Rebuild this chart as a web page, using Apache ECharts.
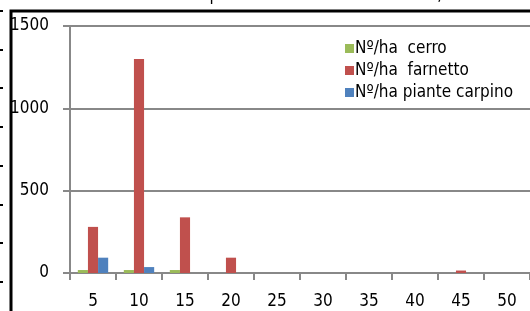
<!DOCTYPE html>
<html>
<head>
    <meta charset="utf-8">
    <script src="https://cdn.jsdelivr.net/npm/echarts@6/dist/echarts.min.js"></script>
    <style>
        body { margin: 0; background: #fff; }
    </style>
</head>
<body>
    <div id="main" style="width: 530px;height:311px;"></div>
    <script>
        // diametri (classi)
        var categories = ['5', '10', '15', '20', '25', '30', '35', '40', '45', '50'];
        var cerro = [18, 18, 18, 0, 0, 0, 0, 0, 0, 0];
        var farnetto = [280, 1300, 338, 93, 0, 0, 0, 0, 15, 0];
        var carpino = [93, 36, 0, 0, 0, 0, 0, 0, 0, 0];
        var yTicks = [0, 500, 1000, 1500];

        var font = "'DejaVu Sans Condensed'";
        var myChart = echarts.init(document.getElementById('main'));

        // trattini sul bordo sinistro (foglio di calcolo tagliato)
        var marks = [11, 50, 88, 127, 166, 205, 243, 282].map(function (y) {
            return { type: 'rect', shape: { x: 0, y: y - 1, width: 3, height: 2 }, style: { fill: '#000' } };
        });

        var option = {
            animation: false,
            color: ['#9BBB59', '#C0504D', '#4F81BD'],
            graphic: marks.concat([
                {
                    type: 'polyline',
                    shape: { points: [[11, 320], [11, 11], [540, 11]] },
                    style: { stroke: '#000', lineWidth: 3, fill: null }
                },
                {
                    type: 'text', x: 190, y: 4,
                    style: { text: 'Superficie ass', font: '17px ' + font, fill: '#000', textVerticalAlign: 'bottom' }
                },
                {
                    type: 'text', x: 408, y: 4,
                    style: { text: '385,877', font: '17px ' + font, fill: '#000', textVerticalAlign: 'bottom' }
                }
            ]),
            legend: {
                orient: 'vertical',
                left: 340,
                top: 35,
                itemWidth: 9,
                itemHeight: 9,
                itemGap: 5,
                icon: 'rect',
                textStyle: { fontFamily: font, fontSize: 17, color: '#000', padding: [0, 0, 0, -4] },
                data: ['Nº/ha  cerro', 'Nº/ha  farnetto', 'Nº/ha piante carpino']
            },
            grid: {
                left: 70,
                top: 26,
                width: 467,
                height: 247
            },
            xAxis: {
                type: 'category',
                data: categories,
                axisLine: { lineStyle: { color: '#888', width: 2 } },
                axisTick: { show: true, length: 7, lineStyle: { color: '#888', width: 2 } },
                axisLabel: { fontFamily: font, fontSize: 17, color: '#000', margin: 20 }
            },
            yAxis: {
                type: 'value',
                min: yTicks[0],
                max: yTicks[yTicks.length - 1],
                interval: 500,
                axisLine: { show: true, lineStyle: { color: '#888', width: 2 } },
                axisTick: { show: true, length: 7, lineStyle: { color: '#888', width: 2 } },
                splitLine: { lineStyle: { color: '#888', width: 2 } },
                axisLabel: {
                    fontFamily: font, fontSize: 17, color: '#000', margin: 21,
                    formatter: function (v) { return String(v); }
                }
            },
            series: [
                { name: 'Nº/ha  cerro', type: 'bar', data: cerro, barGap: '0%', barCategoryGap: '34%' },
                { name: 'Nº/ha  farnetto', type: 'bar', data: farnetto, barGap: '0%', barCategoryGap: '34%' },
                { name: 'Nº/ha piante carpino', type: 'bar', data: carpino, barGap: '0%', barCategoryGap: '34%' }
            ]
        };
        myChart.setOption(option);
    </script>
</body>
</html>
